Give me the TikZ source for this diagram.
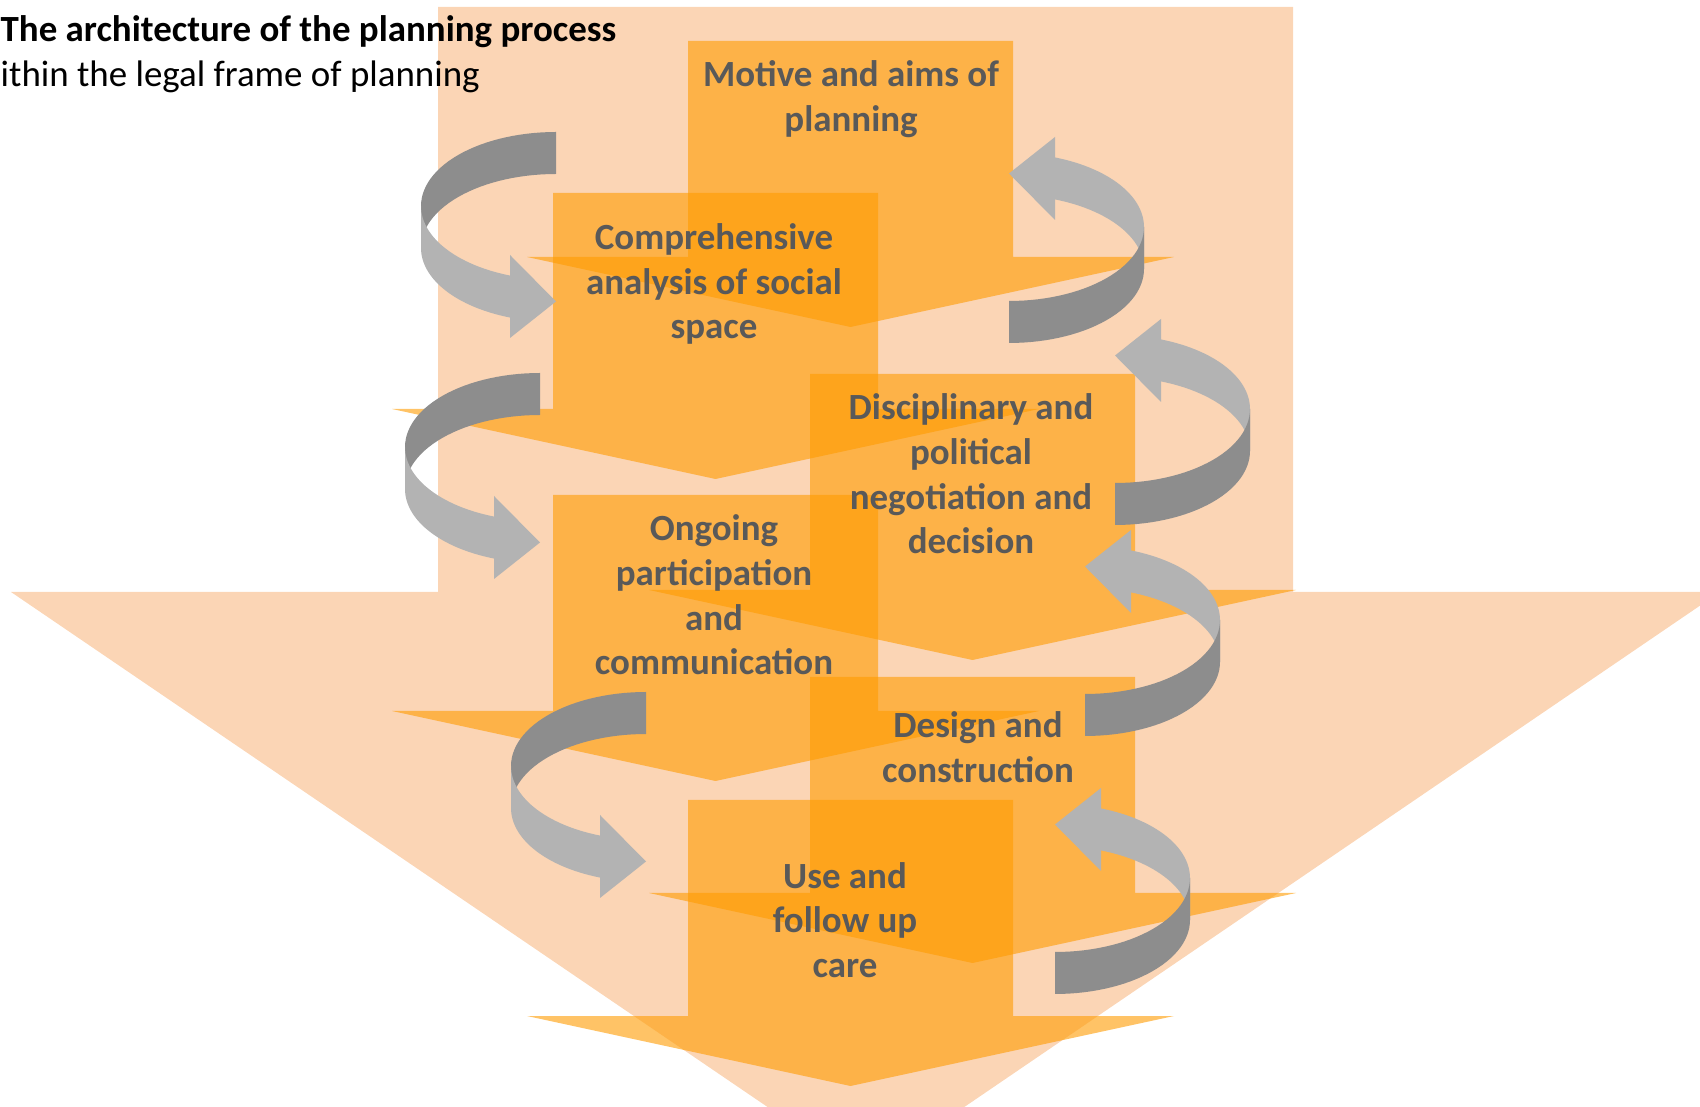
\documentclass[tikz,border=0pt]{standalone}
\usepackage{fontspec}
\setmainfont{Carlito}
\usepackage{tikz}

\definecolor{framepeach}{RGB}{251,213,181}
\definecolor{steporange}{RGB}{255,155,0}
\definecolor{textgray}{RGB}{89,89,89}
\definecolor{darkband}{RGB}{141,141,141}
\definecolor{lightband}{RGB}{179,179,179}

\begin{document}
\begin{tikzpicture}[x=0.01cm, y=-0.01cm, font=\fontsize{10.5}{12.7}\selectfont]
	\tikzstyle{frame} = [fill=framepeach]
	
	\tikzstyle{stepbox} = [fill=steporange, fill opacity=0.6]
	
	\tikzstyle{steptext} = [text=textgray, font=\fontsize{10.5}{12.7}\selectfont\bfseries, align=center, inner sep=0pt]
	
	\tikzstyle{tailband} = [fill=darkband]
	\tikzstyle{headband} = [fill=lightband]
	
	\useasboundingbox (0,0) rectangle (1700,1107);
	\clip (0,0) rectangle (1700,1107);
	
	% Legal frame of planning (big arrow in the back)
	\fill[frame] (438,7) -- (438,592) -- (11,592) -- (866,1174) -- (1720,592) -- (1293,592) -- (1293,7) -- cycle;
	
	% Steps of the process
	\foreach \bx/\by in {688/41, 553/193, 810/374, 553/495, 810/677, 688/800}
		\fill[stepbox] (\bx,\by) -- ++(0,216) -- ++(-161,0) -- ++(323.5,70) -- ++(323.5,-70) -- ++(-161,0) -- ++(0,-216) -- cycle;
	
	% Titles
	\node (title) [anchor=base west, inner sep=0pt, font=\fontsize{10.5}{12.7}\selectfont\bfseries] at (0,42) {The architecture of the planning process};
	\node (subtitle) [anchor=base west, inner sep=0pt] at (0,87) {ithin the legal frame of planning};
	
	% Step texts
	\node (motive) [steptext] at (851,99) {Motive and aims of\\planning};
	\node (analysis) [steptext] at (714,284) {Comprehensive\\analysis of social\\space};
	\node (negotiation) [steptext] at (971,474) {Disciplinary and\\political\\negotiation and\\decision};
	\node (participation) [steptext] at (714,595) {Ongoing\\participation\\and\\communication};
	\node (design) [steptext] at (978,747) {Design and\\construction};
	\node (use) [steptext] at (845,920) {Use and\\follow up\\care};
	
	% Turning arrows, left side
	\foreach \cx/\cy in {556/206, 540/447, 646/766} {
		\fill[tailband] plot[domain=270:180, samples=30] ({\cx+135*cos(\x)}, {\cy+74*sin(\x)}) -- plot[domain=180:270, samples=30] ({\cx+135*cos(\x)}, {\cy+42+74*sin(\x)}) -- cycle;
		\fill[headband] plot[domain=180:110, samples=30] ({\cx+135*cos(\x)}, {\cy+74*sin(\x)}) -- plot[domain=110:180, samples=30] ({\cx+135*cos(\x)}, {\cy+42+74*sin(\x)}) -- cycle;
		\fill[headband] ({\cx-46},{\cy+49}) -- ({\cx},{\cy+95.5}) -- ({\cx-46},{\cy+132}) -- cycle;
	}
	
	% Turning arrows, right side
	\foreach \cx/\cy in {1009/227, 1115/409, 1085/620, 1055/878} {
		\fill[headband] plot[domain=0:-70, samples=30] ({\cx+135*cos(\x)}, {\cy+74*sin(\x)}) -- plot[domain=-70:0, samples=30] ({\cx+135*cos(\x)}, {\cy+42+74*sin(\x)}) -- cycle;
		\fill[headband] ({\cx+46},{\cy-90}) -- ({\cx},{\cy-53.5}) -- ({\cx+46},{\cy-7}) -- cycle;
		\fill[tailband] plot[domain=90:0, samples=30] ({\cx+135*cos(\x)}, {\cy+74*sin(\x)}) -- plot[domain=0:90, samples=30] ({\cx+135*cos(\x)}, {\cy+42+74*sin(\x)}) -- cycle;
	}
\end{tikzpicture}
\end{document}
